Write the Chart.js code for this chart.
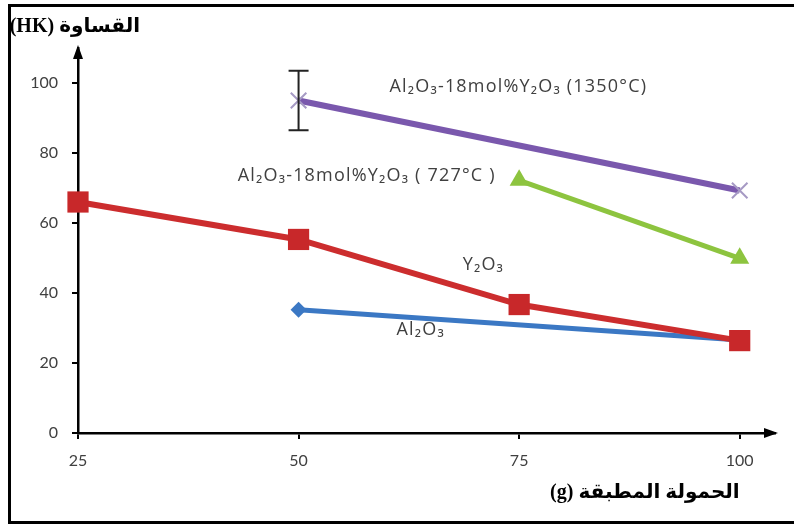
<!DOCTYPE html>
<html>
<head>
<meta charset="utf-8">
<script src="https://cdn.jsdelivr.net/npm/chart.js@4.4.1/dist/chart.umd.min.js"></script>
<style>
  html, body { margin: 0; padding: 0; background: #fff; }
  #wrap { position: relative; width: 794px; height: 524px; }
  #frame {
    position: absolute; left: 8px; top: 4px; width: 786px; height: 520px;
    border-top: 3px solid #000; border-left: 3px solid #000; border-bottom: 3px solid #000;
    box-sizing: border-box;
  }
  canvas { position: absolute; left: 0; top: 0; }
</style>
</head>
<body>
<div id="wrap">
  <div id="frame"></div>
  <canvas id="hardnessChart" width="794" height="524"></canvas>
</div>
<script>
// applied load (g)
const loads = [25, 50, 75, 100];
// hardness (HK) per series, null = not measured
const y2o3 = [66, 55.3, 36.7, 26.4];
const al2o3 = [null, 35.2, null, 26.6];
const mix727 = [null, null, 72.2, 49.9];
const mix1350 = [null, 95, null, 69.3];
const mix1350Err = [null, 8.5, null, null];

const xTicks = [25, 50, 75, 100];
const yTicks = [0, 20, 40, 60, 80, 100];

const yTitle = "القساوة (HK)";
const xTitle = "الحمولة المطبقة (g)";

function points(arr) {
  return loads.map((x, i) => ({ x: x, y: arr[i] })).filter(p => p.y !== null);
}

// series labels written on the plot (position in data units)
const seriesLabels = [
  { text: "Al₂O₃-18mol%Y₂O₃ (1350°C)", x: 60.3, y: 99 },
  { text: "Al₂O₃-18mol%Y₂O₃ ( 727°C )", x: 43.1, y: 73.6 },
  { text: "Y₂O₃", x: 68.6, y: 48.1 },
  { text: "Al₂O₃", x: 61.1, y: 29.5 },
];

const errorBars = {
  id: "errorBars",
  afterDatasetsDraw(chart) {
    const { ctx, scales } = chart;
    ctx.save();
    ctx.strokeStyle = "#222";
    ctx.lineWidth = 2;
    loads.forEach((l, i) => {
      if (mix1350Err[i] === null) return;
      const px = scales.x.getPixelForValue(l);
      const top = scales.y.getPixelForValue(mix1350[i] + mix1350Err[i]);
      const bot = scales.y.getPixelForValue(mix1350[i] - mix1350Err[i]);
      ctx.beginPath();
      ctx.moveTo(px, top); ctx.lineTo(px, bot);
      ctx.moveTo(px - 10, top); ctx.lineTo(px + 10, top);
      ctx.moveTo(px - 10, bot); ctx.lineTo(px + 10, bot);
      ctx.stroke();
    });
    ctx.restore();
  }
};

const decorations = {
  id: "decorations",
  afterDraw(chart) {
    const { ctx, chartArea, scales } = chart;
    ctx.save();
    // arrow heads
    ctx.fillStyle = "#000";
    ctx.beginPath();
    ctx.moveTo(chartArea.left, chartArea.top - 3);
    ctx.lineTo(chartArea.left - 5, chartArea.top + 11);
    ctx.lineTo(chartArea.left + 5, chartArea.top + 11);
    ctx.closePath();
    ctx.fill();
    ctx.beginPath();
    ctx.moveTo(chartArea.right + 3, chartArea.bottom);
    ctx.lineTo(chartArea.right - 11, chartArea.bottom - 5);
    ctx.lineTo(chartArea.right - 11, chartArea.bottom + 5);
    ctx.closePath();
    ctx.fill();

    // series labels
    ctx.fillStyle = "#404040";
    ctx.font = "18px 'Open Sans', 'DejaVu Sans', sans-serif";
    ctx.letterSpacing = "1.2px";
    ctx.textAlign = "left";
    ctx.textBaseline = "middle";
    seriesLabels.forEach(l => {
      ctx.fillText(l.text, scales.x.getPixelForValue(l.x), scales.y.getPixelForValue(l.y));
    });
    ctx.letterSpacing = "0px";

    // axis titles
    ctx.fillStyle = "#000";
    ctx.direction = "rtl";
    ctx.textAlign = "right";
    ctx.font = "bold 20px 'Liberation Serif', 'DejaVu Sans', serif";
    ctx.fillText(yTitle, 140, 27);
    ctx.fillText(xTitle, scales.x.getPixelForValue(100), 493);
    ctx.restore();
  }
};

new Chart(document.getElementById("hardnessChart"), {
  type: "line",
  data: {
    datasets: [
      {
        label: "Y2O3",
        data: points(y2o3),
        borderColor: "#cc2d2e",
        backgroundColor: "#c8282a",
        borderWidth: 6,
        pointStyle: "rect",
        pointRadius: 15,
        pointBorderWidth: 0,
        clip: false,
      },
      {
        label: "Al2O3",
        data: points(al2o3),
        borderColor: "#3b78c4",
        backgroundColor: "#3b78c4",
        borderWidth: 5,
        pointStyle: "rectRot",
        pointRadius: 8,
        pointBorderWidth: 0,
        clip: false,
      },
      {
        label: "Al2O3-18mol%Y2O3 (727°C)",
        data: points(mix727),
        borderColor: "#8dc43f",
        backgroundColor: "#8dc43f",
        borderWidth: 5,
        pointStyle: "triangle",
        pointRadius: 11,
        pointBorderWidth: 0,
        clip: false,
      },
      {
        label: "Al2O3-18mol%Y2O3 (1350°C)",
        data: points(mix1350),
        borderColor: "#7a58ad",
        backgroundColor: "#a69ac4",
        pointBorderColor: "#a69ac4",
        borderWidth: 6,
        pointStyle: "crossRot",
        pointRadius: 11,
        pointBorderWidth: 2,
        clip: false,
      },
    ],
  },
  options: {
    responsive: false,
    animation: false,
    layout: { padding: { left: 0, top: 48, right: 19, bottom: 0 } },
    plugins: { legend: { display: false }, tooltip: { enabled: false } },
    scales: {
      x: {
        type: "linear",
        min: 25,
        max: 104,
        afterBuildTicks: s => { s.ticks = xTicks.map(v => ({ value: v })); },
        afterFit: s => { s.height = 91; },
        border: { display: true, color: "#000", width: 2.5 },
        grid: { drawOnChartArea: false, drawTicks: true, tickLength: 6, color: "#000", lineWidth: 2 },
        ticks: { color: "#404040", font: { family: "Lato", size: 16 }, padding: 12 },
      },
      y: {
        min: 0,
        max: 110,
        afterBuildTicks: s => { s.ticks = yTicks.map(v => ({ value: v })); },
        afterFit: s => { s.width = 78; },
        border: { display: true, color: "#000", width: 2.5 },
        grid: { drawOnChartArea: false, drawTicks: true, tickLength: 6, color: "#000", lineWidth: 2 },
        ticks: { color: "#404040", font: { family: "Lato", size: 16 }, padding: 14 },
      },
    },
  },
  plugins: [errorBars, decorations],
});
</script>
</body>
</html>
